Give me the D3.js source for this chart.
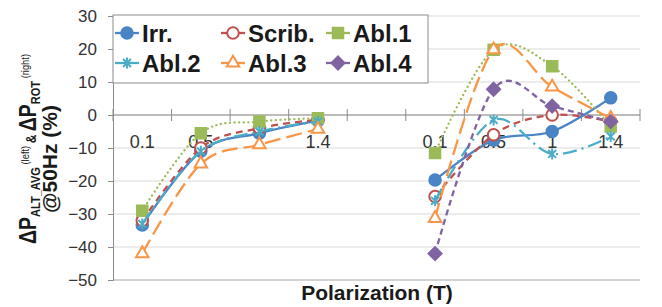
<!DOCTYPE html>
<html>
<head>
<meta charset="utf-8">
<script src="https://cdn.jsdelivr.net/npm/d3@7"></script>
<style>
  body { margin: 0; background: #fff; }
  svg { display: block; font-family: "Liberation Sans", Arial, sans-serif; }
</style>
</head>
<body>
<div id="chart"></div>
<script>
// categories: two groups of polarization levels, one blank slot between
const categories = ["0.1", "0.5", "1", "1.4", "", "0.1", "0.5", "1", "1.4"]
const yTicks = [30, 20, 10, 0, -10, -20, -30, -40, -50]

// left group = ALT_AVG, right group = ROT (null = no point)
const irr   = [-33.3, -11, -5.5, -1.7, null, -19.7, -7.6, -5, 5.2]
const scrib = [-32, -10, -4, -1.4, null, -24.7, -6, 0, -2]
const abl1  = [-29, -5.5, -2, -1, null, -11.5, 19.8, 14.8, -3.5]
const abl2  = [-33, -11, -5, -2, null, -26, -1.5, -11.8, -6.5]
const abl3  = [-42, -14.8, -9, -4.3, null, -31.3, 19.8, 8.5, -1]
const abl4  = [null, null, null, null, null, -42, 7.8, 2.7, -2]

const series = [
  {name: "Irr.",   values: irr,   color: "#4a84c4", dash: null,       marker: "circle",   filled: true},
  {name: "Scrib.", values: scrib, color: "#c0504d", dash: "7,5",      marker: "circle",   filled: false},
  {name: "Abl.1",  values: abl1,  color: "#9bbb59", dash: "0.1,4.5",  marker: "square",   filled: true},
  {name: "Abl.2",  values: abl2,  color: "#4bacc6", dash: "14,5,2,5", marker: "star",     filled: false},
  {name: "Abl.3",  values: abl3,  color: "#f79646", dash: "16,6",     marker: "triangle", filled: false},
  {name: "Abl.4",  values: abl4,  color: "#8064a2", dash: "6,4",      marker: "diamond",  filled: true},
]

const width = 662, height = 307
const margin = {left: 113, right: 22, top: 16, bottom: 27}

const svg = d3.select("#chart").append("svg")
  .attr("width", width)
  .attr("height", height)

const x = d3.scaleBand()
  .domain(d3.range(categories.length))
  .range([margin.left, width - margin.right])

const y = d3.scaleLinear()
  .domain([-50, 30])
  .range([height - margin.bottom, margin.top])

// grid
svg.append("g")
  .selectAll("line")
  .data(yTicks)
  .join("line")
    .attr("x1", margin.left)
    .attr("x2", width - margin.right)
    .attr("y1", d => y(d))
    .attr("y2", d => y(d))
    .attr("stroke", d => d == -50 ? "#a6a6a6" : "#d9d9d9")
    .attr("stroke-width", 1)

// y axis
const yAxis = svg.append("g")
  .attr("transform", `translate(${margin.left},0)`)
  .call(d3.axisLeft(y).tickValues(yTicks).tickSize(5).tickPadding(11))
yAxis.select(".domain").attr("stroke", "#8c8c8c")
yAxis.selectAll(".tick line").attr("stroke", "#8c8c8c")
yAxis.selectAll(".tick text")
  .attr("font-size", 17)
  .attr("fill", "#333")
  .attr("font-family", "Liberation Sans, Arial, sans-serif")

// x axis at zero
const x0 = y(0)
svg.append("line")
  .attr("x1", margin.left).attr("x2", width - margin.right)
  .attr("y1", x0).attr("y2", x0)
  .attr("stroke", "#8c8c8c").attr("stroke-width", 1.2)

const bounds = d3.range(categories.length + 1).map(i =>
  i < categories.length ? x(i) : x(i - 1) + x.bandwidth())
svg.append("g")
  .selectAll("line")
  .data(bounds)
  .join("line")
    .attr("x1", d => d).attr("x2", d => d)
    .attr("y1", x0 - 6).attr("y2", x0 + 6)
    .attr("stroke", "#8c8c8c")

svg.append("g")
  .selectAll("text")
  .data(categories)
  .join("text")
    .attr("x", (d, i) => x(i) + x.bandwidth() / 2)
    .attr("y", x0 + 33)
    .attr("text-anchor", "middle")
    .attr("font-size", 18)
    .attr("fill", "#333")
    .text(d => d)

// marker shapes
function markerPath(type) {
  if (type == "circle") return d3.symbol(d3.symbolCircle, 105)()
  if (type == "square") return d3.symbol(d3.symbolSquare, 110)()
  if (type == "triangle") return d3.symbol(d3.symbolTriangle, 68)()
  if (type == "diamond") return "M0,-6.5L6.5,0L0,6.5L-6.5,0Z"
  const r = 5.5, a = r * 0.72
  return `M${-a},${-a}L${a},${a}M${-a},${a}L${a},${-a}M0,${-r}L0,${r}`
}

const line = d3.line()
  .defined(d => d.v != null)
  .x(d => x(d.i) + x.bandwidth() / 2)
  .y(d => y(d.v))
  .curve(d3.curveCardinal.tension(0))

const plot = svg.append("g")
for (const s of series) {
  const pts = s.values.map((v, i) => ({v, i}))
  const g = plot.append("g")
  g.append("path")
    .attr("d", line(pts))
    .attr("fill", "none")
    .attr("stroke", s.color)
    .attr("stroke-width", 2.3)
    .attr("stroke-linecap", s.dash && s.dash.startsWith("0.1") ? "round" : "butt")
    .attr("stroke-dasharray", s.dash)
  g.selectAll("path.m")
    .data(pts.filter(d => d.v != null))
    .join("path")
      .attr("class", "m")
      .attr("transform", d => `translate(${x(d.i) + x.bandwidth() / 2},${y(d.v)})`)
      .attr("d", markerPath(s.marker))
      .attr("fill", s.marker == "star" ? "none" : (s.filled ? s.color : "#fff"))
      .attr("stroke", s.color)
      .attr("stroke-width", 2)
}

// legend
const legend = svg.append("g")
legend.append("rect")
  .attr("x", margin.left).attr("y", 15)
  .attr("width", 315).attr("height", 68)
  .attr("fill", "#fff")
  .attr("stroke", "#8c8c8c")

const colX = [127, 233, 338]
const rowY = [33, 63]
series.forEach((s, i) => {
  const cx = colX[i % 3], cy = rowY[Math.floor(i / 3)]
  const g = legend.append("g")
  g.append("line")
    .attr("x1", cx - 12).attr("x2", cx + 12)
    .attr("y1", cy).attr("y2", cy)
    .attr("stroke", s.color).attr("stroke-width", 2.3)
  g.append("path")
    .attr("transform", `translate(${cx},${cy})`)
    .attr("d", markerPath(s.marker))
    .attr("fill", s.marker == "star" ? "none" : (s.filled ? s.color : "#fff"))
    .attr("stroke", s.color)
    .attr("stroke-width", 2)
  g.append("text")
    .attr("x", cx + 15)
    .attr("y", cy + 9)
    .attr("font-size", 24)
    .attr("font-weight", "bold")
    .attr("fill", "#1a1a1a")
    .text(s.name)
})

// axis titles
svg.append("text")
  .attr("x", 377).attr("y", 300)
  .attr("text-anchor", "middle")
  .attr("font-size", 21)
  .attr("font-weight", "bold")
  .attr("fill", "#1a1a1a")
  .text("Polarization (T)")

// first title line, squeezed along its run (scale x before rotation)
const t1 = svg.append("text")
  .attr("transform", "translate(36,149) rotate(-90) scale(0.85,1)")
  .attr("text-anchor", "middle")
  .attr("font-weight", "bold")
  .attr("fill", "#1a1a1a")
t1.append("tspan").attr("font-size", 23).text("ΔP")
t1.append("tspan").attr("font-size", 13).attr("dy", 4).text("ALT_AVG")
t1.append("tspan").attr("font-size", 11).attr("font-weight", "normal").attr("dy", -11).text(" (left) ")
t1.append("tspan").attr("font-size", 14).attr("dy", 7).text("& ")
t1.append("tspan").attr("font-size", 23).text("ΔP")
t1.append("tspan").attr("font-size", 13).attr("dy", 4).text("ROT")
t1.append("tspan").attr("font-size", 11).attr("font-weight", "normal").attr("dy", -11).text(" (right)")

svg.append("text")
  .attr("transform", "translate(57,159) rotate(-90)")
  .attr("text-anchor", "middle")
  .attr("font-size", 21)
  .attr("font-weight", "bold")
  .attr("fill", "#1a1a1a")
  .text("@50Hz (%)")
</script>
</body>
</html>
